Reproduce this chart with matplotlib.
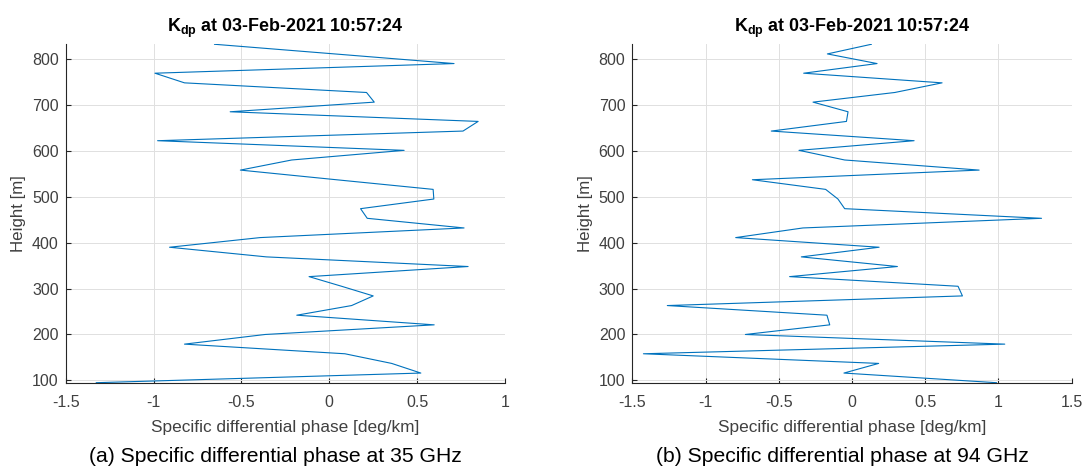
import numpy as np
import matplotlib
matplotlib.use('Agg')
import matplotlib.pyplot as plt

plt.rcParams['font.family'] = ['Liberation Sans', 'DejaVu Sans']
plt.rcParams['mathtext.fontset'] = 'custom'
plt.rcParams['mathtext.rm'] = 'Liberation Sans'
plt.rcParams['mathtext.bf'] = 'Liberation Sans:bold'

# heights of the range gates [m], bottom to top
height = [95, 116, 137, 158, 179, 200, 221, 242, 263, 284, 305, 326,
          348, 369, 390, 411, 432, 453, 474, 495, 516, 537, 558, 580,
          601, 622, 643, 664, 685, 706, 727, 748, 769, 790, 811, 832]

# Kdp at 35 GHz [deg/km]
kdp_35 = [-1.326, 0.521, 0.355, 0.089, -0.824, -0.365, 0.597, -0.185,
          0.127, 0.250, 0.070, -0.115, 0.790, -0.358, -0.909, -0.394,
          0.767, 0.216, 0.178, 0.595, 0.591, 0.040, -0.506, -0.214,
          0.426, -0.977, 0.761, 0.847, -0.564, 0.256, 0.212, -0.824,
          -0.992, 0.710, 0.030, -0.653]

# Kdp at 94 GHz [deg/km]
kdp_94 = [0.986, -0.055, 0.182, -1.424, 1.043, -0.728, -0.152, -0.171,
          -1.261, 0.754, 0.724, -0.426, 0.310, -0.346, 0.185, -0.794,
          -0.335, 1.294, -0.050, -0.096, -0.180, -0.680, 0.868, -0.050,
          -0.362, 0.424, -0.551, -0.038, -0.027, -0.266, 0.292, 0.615,
          -0.330, 0.171, -0.168, 0.132]

title_txt = r'$\mathbf{K_{dp}}$ at 03-Feb-2021 10:57:24'
captions = ['(a) Specific differential phase at 35 GHz',
            '(b) Specific differential phase at 94 GHz']

W, H = 1084, 466
fig = plt.figure(figsize=(W / 100, H / 100), dpi=100)

ax_a = fig.add_axes([65.7 / W, 1 - 382.7 / H, 439.3 / W, 338.7 / H])
ax_b = fig.add_axes([632.3 / W, 1 - 382.7 / H, 439.4 / W, 338.7 / H])

panels = [(ax_a, kdp_35, (-1.5, 1), [-1.5, -1, -0.5, 0, 0.5, 1], 275, captions[0]),
          (ax_b, kdp_94, (-1.5, 1.5), [-1.5, -1, -0.5, 0, 0.5, 1, 1.5], 842, captions[1])]

for ax, kdp, xl, xt, cap_x, cap in panels:
    ax.plot(kdp, height, color='#0072BD', lw=0.8)
    ax.set_xlim(xl)
    ax.set_ylim(95, 832.6)
    ax.set_xticks(xt)
    ax.set_xticklabels(['%g' % v for v in xt])
    ax.set_yticks([100, 200, 300, 400, 500, 600, 700, 800])
    ax.grid(True, color='#e0e0e0', lw=0.7)
    ax.set_axisbelow(True)
    for s in ['top', 'right']:
        ax.spines[s].set_visible(False)
    for s in ['left', 'bottom']:
        ax.spines[s].set_color('#262626')
        ax.spines[s].set_linewidth(0.8)
    ax.tick_params(axis='x', pad=9)
    ax.tick_params(axis='y', pad=5)
    ax.tick_params(direction='in', length=3.5, width=0.8, colors='#262626',
                   labelcolor='#404040', labelsize=11.5)
    ax.set_xlabel('Specific differential phase [deg/km]', fontsize=12.4,
                  color='#404040', labelpad=7)
    ax.set_ylabel('Height [m]', fontsize=12.2, color='#404040', labelpad=4)
    ax.set_title(title_txt, fontsize=12.9, fontweight='bold', pad=9)
    fig.text(cap_x / W, 1 - 457 / H, cap, ha='center', va='center',
             fontsize=15.2)

fig.savefig('out.png', dpi=100)
